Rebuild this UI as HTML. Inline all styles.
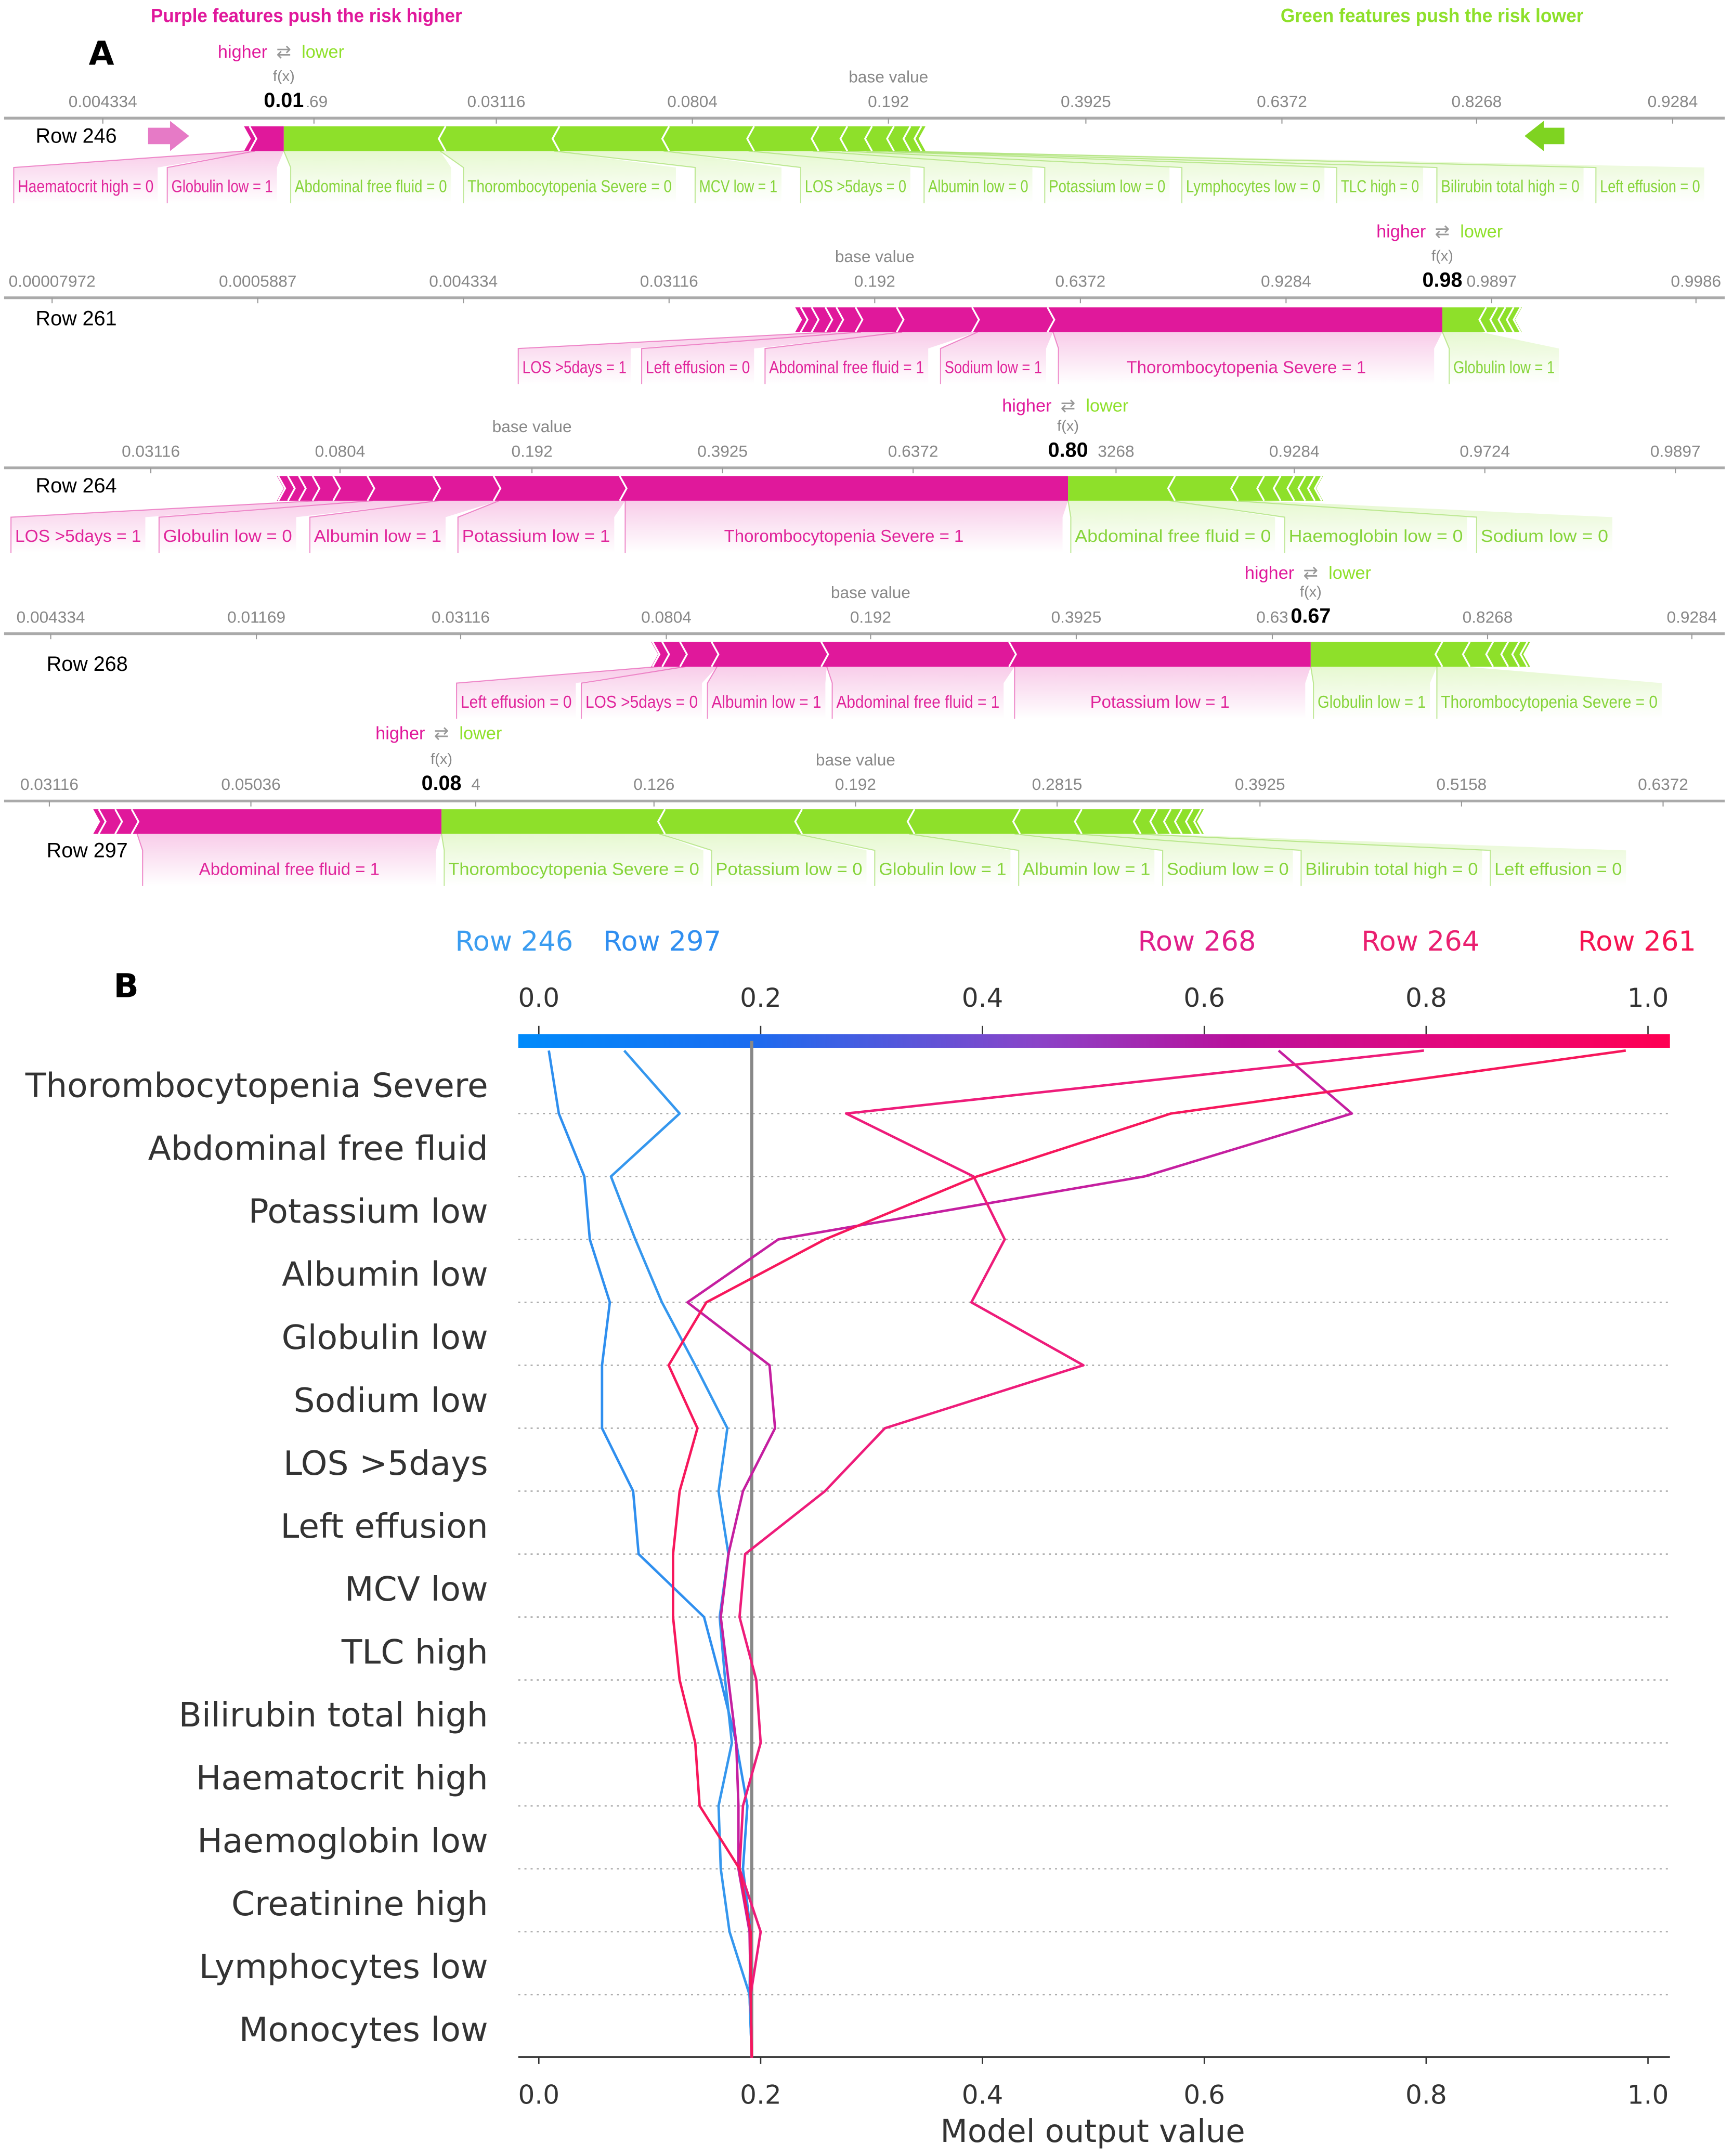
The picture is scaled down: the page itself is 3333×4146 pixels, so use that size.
<!DOCTYPE html>
<html><head><meta charset="utf-8">
<style>
html,body{margin:0;padding:0;background:#fff;}
svg{display:block;}
.nar{font-family:"Liberation Sans Narrow","Liberation Sans",sans-serif;}
.dv{font-family:"DejaVu Sans","Liberation Sans",sans-serif;}
</style></head>
<body>
<svg id="fig" xmlns="http://www.w3.org/2000/svg" width="3333" height="4146" viewBox="0 0 1264 1568">
<defs>
<linearGradient id="cbar" x1="0" x2="1" y1="0" y2="0">
<stop offset="0" stop-color="#008bfb"/><stop offset="0.2" stop-color="#1a6cf0"/>
<stop offset="0.45" stop-color="#8a44c8"/><stop offset="0.62" stop-color="#b8119c"/>
<stop offset="0.82" stop-color="#e6077a"/><stop offset="1" stop-color="#ff0052"/>
</linearGradient>
<linearGradient id="gm" x1="0" x2="0" y1="0" y2="1"><stop offset="0" stop-color="#e0189b" stop-opacity="0.22"/><stop offset="1" stop-color="#e0189b" stop-opacity="0"/></linearGradient>
<linearGradient id="gg" x1="0" x2="0" y1="0" y2="1"><stop offset="0" stop-color="#8ee02a" stop-opacity="0.22"/><stop offset="1" stop-color="#8ee02a" stop-opacity="0"/></linearGradient>
</defs>
<g id="partA"></g>
<g id="partB"></g>
</svg>
<script>
// ---------- Decision plot data ----------
const features = ["Thorombocytopenia Severe","Abdominal free fluid","Potassium low","Albumin low","Globulin low","Sodium low","LOS >5days","Left effusion","MCV low","TLC high","Bilirubin total high","Haematocrit high","Haemoglobin low","Creatinine high","Lymphocytes low","Monocytes low"];
const xTicks = [0.0,0.2,0.4,0.6,0.8,1.0];
const xTickLabels = ["0.0","0.2","0.4","0.6","0.8","1.0"];
const baseValue = 0.192;
const rowNames = ["Row 246","Row 297","Row 268","Row 264","Row 261"];
const row246 = [0.009,0.018,0.041,0.046,0.064,0.057,0.057,0.085,0.090,0.149,0.164,0.178,0.188,0.184,0.191,0.190,0.192];
const row297 = [0.077,0.127,0.065,0.087,0.111,0.141,0.170,0.162,0.171,0.163,0.168,0.174,0.162,0.164,0.172,0.190,0.192];
const row268 = [0.667,0.733,0.546,0.216,0.134,0.208,0.213,0.184,0.171,0.164,0.171,0.178,0.180,0.180,0.190,0.191,0.192];
const row264 = [0.798,0.277,0.392,0.420,0.390,0.491,0.312,0.258,0.186,0.181,0.196,0.200,0.184,0.181,0.200,0.191,0.192];
const row261 = [0.980,0.570,0.395,0.258,0.151,0.117,0.143,0.127,0.121,0.121,0.127,0.141,0.145,0.181,0.191,0.191,0.192];

const NS="http://www.w3.org/2000/svg";
function mk(parent,tag,attrs,text){const e=document.createElementNS(NS,tag);for(const k in attrs)e.setAttribute(k,attrs[k]);if(text!==undefined)e.textContent=text;parent.appendChild(e);return e;}

const A=document.getElementById('partA');
const B=document.getElementById('partB');

// ---------- Part B ----------
const X0=393,X1=1202;
function xs(v){return X0+(X1-X0)*v;}
function ys(i){return 764+i*45.9;}
let el;
el=mk(B,'text',{x:92,y:725,'font-size':24,'font-weight':'bold','text-anchor':'middle',class:'dv'},'B');


const legendColors=["#3a9cf0","#2f8ef0","#e0208a","#ea2070","#f51452"];
const legendX=[375,483,873,1036,1194];
for(let i=0;i<rowNames.length;i++){
  el=mk(B,'text',{x:legendX[i],y:691,'font-size':20,fill:legendColors[i],'text-anchor':'middle',class:'dv'},rowNames[i]);
  
  
}
for(let i=0;i<xTicks.length;i++){
  el=mk(B,'text',{x:xs(xTicks[i]),y:732,'font-size':19,fill:'#333','text-anchor':'middle',class:'dv'},xTickLabels[i]);
  
  
  el=mk(B,'line',{x1:xs(xTicks[i]),x2:xs(xTicks[i]),y1:746,y2:752,stroke:'#333','stroke-width':1});
  
  
  el=mk(B,'text',{x:xs(xTicks[i]),y:1532,'font-size':19,fill:'#333','text-anchor':'middle',class:'dv'},xTickLabels[i]);
  
  
  el=mk(B,'line',{x1:xs(xTicks[i]),x2:xs(xTicks[i]),y1:1498,y2:1503,stroke:'#333','stroke-width':1});
  
  
}
el=mk(B,'rect',{x:378,y:752,width:840,height:10,fill:'url(#cbar)'});


for(let i=1;i<=15;i++){
  el=mk(B,'line',{x1:378,x2:1218,y1:ys(i),y2:ys(i),stroke:'#aaa','stroke-width':1,'stroke-dasharray':'1.5 3'});
  
  
}
for(let i=0;i<features.length;i++){
  el=mk(B,'text',{x:356,y:ys(i+1)-12,'font-size':24.5,fill:'#333','text-anchor':'end',class:'dv'},features[i]);
  
  
}
el=mk(B,'line',{x1:378,x2:1218,y1:1498,y2:1498,stroke:'#333','stroke-width':1.2});


el=mk(B,'line',{x1:xs(baseValue),x2:xs(baseValue),y1:757,y2:1498,stroke:'#888','stroke-width':2.2});


const series=[row246,row297,row268,row264,row261];
const seriesColors=["#2f8fef","#3597ee","#c51fa0","#ee1c7a","#f7175c"];
for(let s=0;s<series.length;s++){
  const pts=series[s].map((v,i)=>xs(v).toFixed(1)+','+ys(i).toFixed(1)).join(' ');
  el=mk(B,'polyline',{points:pts,fill:'none',stroke:seriesColors[s],'stroke-width':1.8,'stroke-linejoin':'round'});
  
  
}
el=mk(B,'text',{x:797,y:1560,'font-size':23,fill:'#333','text-anchor':'middle',class:'dv'},'Model output value');



// ---------- Part A ----------
const MAG="#e0189b",GRN="#8ee02a",MAGT="#e0259b",GRNT="#86d43a";
el=mk(A,'text',{x:110,y:14,'font-size':14,'font-weight':'bold',fill:'#e0189b',textLength:227,lengthAdjust:'spacingAndGlyphs',class:'nar'},'Purple features push the risk higher');


el=mk(A,'text',{x:934,y:14,'font-size':14,'font-weight':'bold',fill:'#8ee02a',textLength:221,lengthAdjust:'spacingAndGlyphs',class:'nar'},'Green features push the risk lower');


el=mk(A,'text',{x:74,y:45,'font-size':24,'font-weight':'bold','text-anchor':'middle',class:'dv'},'A');



const rows=[
 {name:"Row 246",nameX:26,nameY:102,axisY:84,barY:90,fx:207,fxLabel:"0.01",hlY:40,
  ticks:[[75,"0.004334"],[229,"169"],[362,"0.03116"],[505,"0.0804"],[648,"0.192"],[792,"0.3925"],[935,"0.6372"],[1077,"0.8268"],[1220,"0.9284"]],base:648,
  mStart:178,gEnd:675,mChev:[186],gChev:[321,404,484,546,593,614,632,648,660,668],
  mLabels:[["Haematocrit high = 0",10,115,178,186],["Globulin low = 1",122,202,186,207]],
  gLabels:[["Abdominal free fluid = 0",212,329,207,321],["Thorombocytopenia Severe = 0",338,493,321,404],["MCV low = 1",507,570,404,484],["LOS >5days = 0",584,664,484,546],["Albumin low = 0",674,753,546,593],["Potassium low = 0",762,853,593,614],["Lymphocytes low = 0",862,966,614,632],["TLC high = 0",975,1038,632,648],["Bilirubin total high = 0",1048,1155,648,660],["Left effusion = 0",1164,1243,660,668]]},
 {name:"Row 261",nameX:26,nameY:235,axisY:215,barY:222,fx:1052,fxLabel:"0.98",hlY:171,
  ticks:[[38,"0.00007972"],[188,"0.0005887"],[338,"0.004334"],[488,"0.03116"],[638,"0.192"],[788,"0.6372"],[938,"0.9284"],[1088,"0.9897"],[1237,"0.9986"]],base:638,
  mStart:580,gEnd:1110,mChev:[588,596,606,614,628,658,713,768],gChev:[1080,1088,1094,1100,1105],
  mLabels:[["LOS >5days = 1",378,460,606,628],["Left effusion = 0",468,550,628,658],["Abdominal free fluid = 1",558,677,658,713],["Sodium low = 1",686,763,713,768],["Thorombocytopenia Severe = 1",772,1046,768,1052,true]],
  gLabels:[["Globulin low = 1",1057,1137,1052,1080]]},
 {name:"Row 264",nameX:26,nameY:357,axisY:339,barY:345,fx:779,fxLabel:"0.80",hlY:298,
  ticks:[[110,"0.03116"],[248,"0.0804"],[388,"0.192"],[527,"0.3925"],[666,"0.6372"],[814,"3268"],[944,"0.9284"],[1083,"0.9724"],[1222,"0.9897"]],base:388,
  mStart:202,gEnd:965,mChev:[207,214,222,232,247,272,320,364,456],gChev:[853,899,918,930,940,948,955,960],
  mLabels:[["LOS >5days = 1",8,106,232,272],["Globulin low = 0",116,216,272,320],["Albumin low = 1",226,325,320,364],["Potassium low = 1",334,448,364,456],["Thorombocytopenia Severe = 1",456,775,456,779,true]],
  gLabels:[["Abdominal free fluid = 0",781,930,779,853],["Haemoglobin low = 0",937,1070,853,899],["Sodium low = 0",1077,1176,899,918]]},
 {name:"Row 268",nameX:34,nameY:487,axisY:460,barY:466,fx:956,fxLabel:"0.67",hlY:420,
  ticks:[[37,"0.004334"],[187,"0.01169"],[336,"0.03116"],[486,"0.0804"],[635,"0.192"],[785,"0.3925"],[928,"0.63"],[1085,"0.8268"],[1234,"0.9284"]],base:635,
  mStart:475,gEnd:1116,mChev:[480,487,500,523,603,740],gChev:[1048,1068,1085,1096,1104,1110],
  mLabels:[["Left effusion = 0",333,420,480,500],["LOS >5days = 0",424,512,500,523],["Albumin low = 1",516,602,523,603],["Abdominal free fluid = 1",607,732,603,740],["Potassium low = 1",740,952,740,956,true]],
  gLabels:[["Globulin low = 1",958,1043,956,1048],["Thorombocytopenia Severe = 0",1048,1212,1048,1068]]},
 {name:"Row 297",nameX:34,nameY:623,axisY:582,barY:588,fx:322,fxLabel:"0.08",hlY:537,
  ticks:[[36,"0.03116"],[183,"0.05036"],[347,"4"],[477,"0.126"],[624,"0.192"],[771,"0.2815"],[919,"0.3925"],[1066,"0.5158"],[1213,"0.6372"]],base:624,
  mStart:68,gEnd:878,mChev:[76,88,100],gChev:[481,581,663,740,785,828,840,850,858,866,872],
  mLabels:[["Abdominal free fluid = 1",104,318,100,322,true]],
  gLabels:[["Thorombocytopenia Severe = 0",324,513,322,481],["Potassium low = 0",519,632,481,581],["Globulin low = 1",638,737,581,663],["Albumin low = 1",743,842,663,740],["Sodium low = 0",848,943,740,785],["Bilirubin total high = 0",949,1081,785,828],["Left effusion = 0",1087,1186,828,840]]}
];

rows.forEach(r=>{
  const g=mk(A,'g',{});
  
  
  el=mk(g,'line',{x1:3,x2:1258,y1:r.axisY,y2:r.axisY,stroke:'#aaa','stroke-width':2});
  
  
  r.ticks.forEach(t=>{
    el=mk(g,'text',{x:t[0],y:r.axisY-8,'font-size':12,fill:'#888','text-anchor':'middle',class:'nar'},t[1]);
    
    
    el=mk(g,'line',{x1:t[0],x2:t[0],y1:r.axisY,y2:r.axisY+4,stroke:'#999','stroke-width':0.8});
    
    
  });
  el=mk(g,'text',{x:r.base,y:r.axisY-26,'font-size':12,fill:'#888','text-anchor':'middle',class:'nar'},'base value');
  
  
  el=mk(g,'rect',{x:r.fx-17,y:r.axisY-23,width:34,height:17,fill:'#fff'});
  
  
  el=mk(g,'text',{x:r.fx,y:r.axisY-8,'font-size':15,'font-weight':'bold',fill:'#000','text-anchor':'middle',class:'nar'},r.fxLabel);
  
  
  el=mk(g,'text',{x:r.fx,y:r.axisY-27,'font-size':11,fill:'#888','text-anchor':'middle',class:'nar'},'f(x)');
  
  
  el=mk(g,'text',{x:r.fx-12,y:r.hlY,'font-size':13,fill:MAG,'text-anchor':'end',class:'nar'},'higher');
  
  
  el=mk(g,'text',{x:r.fx,y:r.hlY,'font-size':13,fill:'#999','text-anchor':'middle',class:'dv'},'⇄');
  
  
  el=mk(g,'text',{x:r.fx+13,y:r.hlY,'font-size':13,fill:GRN,'text-anchor':'start',class:'nar'},'lower');
  
  
  el=mk(g,'text',{x:r.nameX,y:r.nameY,'font-size':15,fill:'#000',class:'nar'},r.name);
  
  
  const bt=r.barY,bb=r.barY+18,bm=r.barY+9,lt=bb+12,lb=bb+38;
  const conn=(L,col,grad)=>{
    const [txt,x1,x2,s1,s2,center]=L;
    el=mk(g,'polygon',{points:`${s1},${bb} ${s2},${bb} ${x2},${lt} ${x2},${lb} ${x1},${lb} ${x1},${lt}`,fill:`url(#${grad})`});
    
    
    el=mk(g,'polyline',{points:`${s1},${bb} ${x1},${lt} ${x1},${lb}`,fill:'none',stroke:col,'stroke-opacity':0.5,'stroke-width':0.8});
    
    
    const at={x:center?(x1+x2)/2:x1+3,y:bb+30,'font-size':12.5,fill:col,'text-anchor':center?'middle':'start',class:'nar'};
    if(!center){at.textLength=Math.max(10,x2-x1-6);at.lengthAdjust='spacingAndGlyphs';}
    el=mk(g,'text',at,txt);
    
    
  };
  r.mLabels.forEach(L=>conn(L,MAGT,'gm'));
  r.gLabels.forEach(L=>conn(L,GRNT,'gg'));
  el=mk(g,'polygon',{points:`${r.mStart},${bt} ${r.fx},${bt} ${r.fx},${bb} ${r.mStart},${bb} ${r.mStart+5},${bm}`,fill:MAG});
  
  
  el=mk(g,'polygon',{points:`${r.fx},${bt} ${r.gEnd},${bt} ${r.gEnd-5},${bm} ${r.gEnd},${bb} ${r.fx},${bb}`,fill:GRN});
  
  
  r.mChev.forEach(x=>{
    el=mk(g,'polyline',{points:`${x-4},${bt} ${x+1},${bm} ${x-4},${bb}`,fill:'none',stroke:'#fff','stroke-width':1.3});
    
    
  });
  r.gChev.forEach(x=>{
    el=mk(g,'polyline',{points:`${x+4},${bt} ${x-1},${bm} ${x+4},${bb}`,fill:'none',stroke:'#fff','stroke-width':1.3});
    
    
  });
});
el=mk(A,'polygon',{points:"108,91 124,91 124,86 138,97 124,108 124,103 108,103",fill:'#e67ac6'});


el=mk(A,'polygon',{points:"1141,91 1126,91 1126,86 1112,97 1126,108 1126,103 1141,103",fill:'#7fd321'});


</script>
</body></html>
